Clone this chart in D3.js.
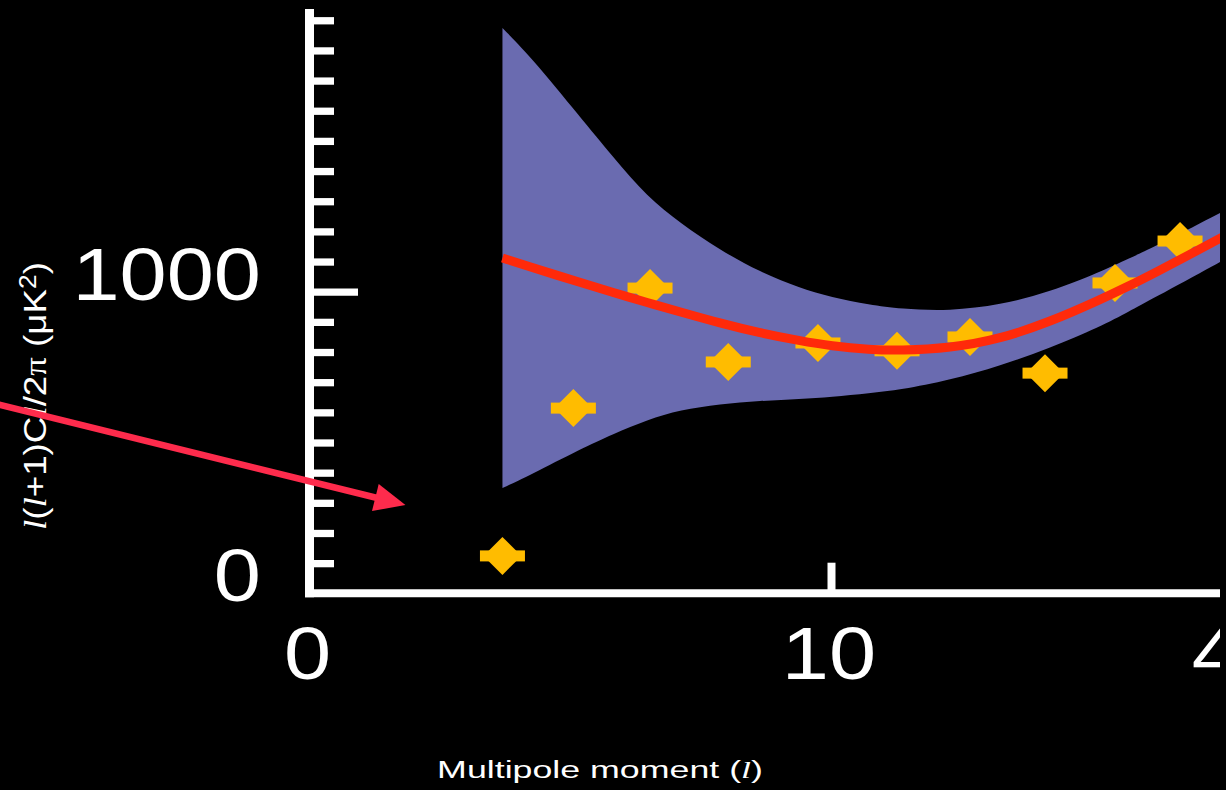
<!DOCTYPE html>
<html>
<head>
<meta charset="utf-8">
<script src="https://cdn.jsdelivr.net/npm/d3@7"></script>
<style>
  html, body { margin: 0; padding: 0; background: #000; }
  svg { display: block; }
</style>
</head>
<body>
<svg id="chart" width="1226" height="790"></svg>
<script>
// ---------- data ----------
const xTickValues = [0, 10, 40];
const xTickLabels = ["0", "10", "40"];
const yTickValues = [0, 1000];
const yTickLabels = ["0", "1000"];
const yMinorTicks = [100, 200, 300, 400, 500, 600, 700, 800, 900, 1100, 1200, 1300, 1400, 1500, 1600, 1700, 1800, 1900];

// measured band power points (multipole, value in µK²)
const pointL = [3.70, 5.06, 6.53, 8.03, 9.75, 14.83, 20.17, 25.66, 30.78, 35.54];
const pointV = [124, 614, 1012, 767, 830, 804, 850, 730, 1029, 1168];

// model curve and cosmic-variance band
const bandL    = [3.70, 4.23, 5.19, 5.82, 6.48, 7.11, 7.87, 8.64, 9.41, 10, 12.85, 15.05, 18.71, 22.37, 26.02, 29.68, 31.88, 33.34, 38.46, 40];
const bandHigh = [1874, 1782, 1579, 1447, 1314, 1228, 1138, 1065, 1012, 982, 956, 943, 936, 956, 999, 1065, 1112, 1141, 1261, 1297];
const bandLow  = [349, 392, 478, 528, 575, 608, 628, 638, 644, 651, 664, 674, 707, 754, 813, 883, 936, 972, 1098, 1138];
const model    = [1112, 1082, 1031, 997, 964, 933, 896, 863, 837, 820, 808, 805, 813, 843, 900, 973, 1021, 1054, 1176, 1215];

// annotation arrow (data coordinates)
const arrowFrom = { l: -5.92, v: 624 };
const arrowTo   = { l: 1.84,  v: 293 };

const yAxisTop = 1937;

// ---------- layout ----------
const svg = d3.select("#chart");
svg.append("defs").append("clipPath").attr("id", "clip")
  .append("rect").attr("x", 0).attr("y", 0).attr("width", 1220).attr("height", 790);
svg.append("rect").attr("width", 1226).attr("height", 790).attr("fill", "#000");
const g = svg.append("g").attr("clip-path", "url(#clip)");

const x = d3.scaleLinear().domain([0, 10, 40]).range([309.5, 831, 1241]);
const y = d3.scaleLinear().domain([0, 1000]).range([593.3, 291.7]);

const WHITE = "#ffffff";
const BAND = "#6a6bb0";
const MODEL = "#ff2a0a";
const GOLD = "#ffbc00";
const ARROW = "#fe2b4c";

// ---------- axes ----------
g.append("line")
  .attr("x1", x(0)).attr("x2", x(0))
  .attr("y1", y(0) + 4).attr("y2", y(yAxisTop))
  .attr("stroke", WHITE).attr("stroke-width", 9);
g.append("line")
  .attr("x1", x(0) - 4.5).attr("x2", x(40))
  .attr("y1", y(0)).attr("y2", y(0))
  .attr("stroke", WHITE).attr("stroke-width", 8);

const yMinorAxis = g.append("g").attr("transform", `translate(${x(0)},0)`)
  .call(d3.axisRight(y).tickValues(yMinorTicks).tickSize(24.5).tickFormat(""));
const yMajorAxis = g.append("g").attr("transform", `translate(${x(0)},0)`)
  .call(d3.axisRight(y).tickValues([1000]).tickSize(48.5).tickFormat(""));
[yMinorAxis, yMajorAxis].forEach(a => {
  a.select(".domain").remove();
  a.selectAll(".tick line").attr("stroke", WHITE).attr("stroke-width", 7.3);
});

const xAxis = g.append("g").attr("transform", `translate(0,${y(0)})`)
  .call(d3.axisBottom(x).tickValues([10, 40]).tickSize(-30.6).tickFormat(""));
xAxis.select(".domain").remove();
xAxis.selectAll(".tick line").attr("stroke", WHITE).attr("stroke-width", 8);

function stretchText(sel, tx, ty, sx, rot) {
  sel.attr("transform", `translate(${tx},${ty})${rot ? ` rotate(${rot})` : ""} scale(${sx},1)`);
}

const digitFont = "'Liberation Sans', Arial, Helvetica, sans-serif";

yTickValues.forEach((v, i) => {
  const t = g.append("text")
    .attr("text-anchor", "end")
    .attr("font-family", digitFont)
    .attr("font-size", 75)
    .attr("fill", WHITE)
    .text(yTickLabels[i]);
  stretchText(t, 261, y(v) + 8, 1.13);
});

xTickValues.forEach((v, i) => {
  const t = g.append("text")
    .attr("text-anchor", "middle")
    .attr("font-family", digitFont)
    .attr("font-size", 75)
    .attr("fill", WHITE)
    .text(xTickLabels[i]);
  stretchText(t, x(v) - 2, 679, 1.13);
});

// x axis title
{
  const t = g.append("text")
    .attr("text-anchor", "middle")
    .attr("font-family", digitFont)
    .attr("font-size", 24)
    .attr("fill", WHITE);
  t.append("tspan").text("Multipole moment (");
  t.append("tspan").attr("font-family", "'Liberation Serif', serif").attr("font-style", "italic").text("l");
  t.append("tspan").text(")");
  const w = t.node().getBBox().width;
  stretchText(t, 600, 777.5, 326 / w);
}

// y axis title
{
  const t = g.append("text")
    .attr("text-anchor", "middle")
    .attr("font-family", digitFont)
    .attr("font-size", 32)
    .attr("fill", WHITE);
  const it = s => t.append("tspan").attr("font-family", "'Liberation Serif', serif").attr("font-style", "italic").text(s);
  it("l");
  t.append("tspan").text("(");
  it("l");
  t.append("tspan").text("+1)C");
  it("l");
  t.append("tspan").text("/2");
  t.append("tspan").attr("font-family", "'Liberation Serif', serif").text("π");
  t.append("tspan").text(" (μK");
  t.append("tspan").attr("dy", -10).attr("font-size", 23).text("2");
  t.append("tspan").attr("dy", 10).text(")");
  const w = t.node().getBBox().width;
  stretchText(t, 45.5, 396, 268 / w, -90);
}

// ---------- band & model ----------
const bandData = bandL.map((l, i) => ({ l, hi: bandHigh[i], lo: bandLow[i], m: model[i] }));

g.append("path")
  .datum(bandData)
  .attr("fill", BAND)
  .attr("d", d3.area()
    .x(d => x(d.l))
    .y0(d => y(d.lo))
    .y1(d => y(d.hi))
    .curve(d3.curveBasis));

const pts = pointL.map((l, i) => ({ l, v: pointV[i] }));
const pg = g.append("g").selectAll("g").data(pts).join("g")
  .attr("transform", d => `translate(${x(d.l)},${y(d.v)})`);
pg.append("rect")
  .attr("x", -22.5).attr("y", -5.5).attr("width", 45).attr("height", 11)
  .attr("fill", GOLD);
pg.append("path")
  .attr("d", "M0,-19L19,0L0,19L-19,0Z")
  .attr("fill", GOLD);

g.append("path")
  .datum(bandData)
  .attr("fill", "none")
  .attr("stroke", MODEL)
  .attr("stroke-width", 9)
  .attr("d", d3.line()
    .x(d => x(d.l))
    .y(d => y(d.m))
    .curve(d3.curveBasis));

// ---------- arrow ----------
{
  const x1 = x(arrowFrom.l), y1 = y(arrowFrom.v);
  const x2 = x(arrowTo.l), y2 = y(arrowTo.v);
  const dx = x2 - x1, dy = y2 - y1, len = Math.hypot(dx, dy);
  const ux = dx / len, uy = dy / len;
  const headLen = 31, headHalf = 14;
  const bx = x2 - ux * headLen, by = y2 - uy * headLen;
  g.append("line")
    .attr("x1", x1 - ux * 20).attr("y1", y1 - uy * 20)
    .attr("x2", bx + ux * 2).attr("y2", by + uy * 2)
    .attr("stroke", ARROW).attr("stroke-width", 6.5);
  g.append("path")
    .attr("d", `M${x2},${y2}L${bx - uy * headHalf},${by + ux * headHalf}L${bx + uy * headHalf},${by - ux * headHalf}Z`)
    .attr("fill", ARROW);
}
</script>
</body>
</html>
